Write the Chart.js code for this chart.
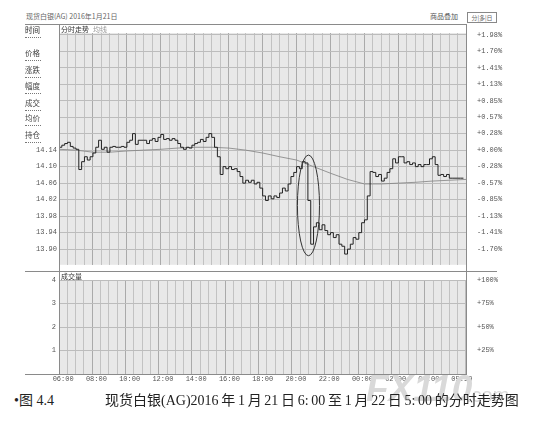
<!DOCTYPE html>
<html>
<head>
<meta charset="utf-8">
<script src="https://cdn.jsdelivr.net/npm/chart.js@4.4.1/dist/chart.umd.min.js"></script>
<style>
body { margin: 0; width: 538px; height: 432px; overflow: hidden; position: relative; background: #fff; font-family: "Noto Sans CJK SC", sans-serif; }
.t { position: absolute; white-space: nowrap; line-height: 1; }
.ln { position: absolute; background: #8a8a8a; }
.info { position: absolute; left: 25px; width: 16px; font-size: 7.5px; line-height: 8px; color: #444; }
.info span { position: absolute; left: 0; top: 11px; width: 16px; border-bottom: 1px dotted #777; }
.cap { font-size: 14px; color: #222; font-family: 'Liberation Serif', 'Noto Sans CJK SC'; }
canvas { position: absolute; left: 0; }
#priceChart { top: 0; }
#volChart { top: 272px; }
</style>
</head>
<body>

<div class="t" style="left:26px;top:13px;font-size:7px;color:#666;">现货白银(AG) 2016年1月21日</div>
<div class="t" style="left:430px;top:13px;font-size:7px;color:#555;">商品叠加</div>
<div class="t" style="left:467px;top:12px;width:28px;height:9px;border:1px solid #888;font-size:6px;color:#666;text-align:center;line-height:9px;">分|多|日</div>

<canvas id="priceChart" width="538" height="272"></canvas>
<canvas id="volChart" width="538" height="115"></canvas>

<div class="info" style="top:26px;color:#222;">时间<span></span></div>
<div class="info" style="top:49px;">价格<span></span></div>
<div class="info" style="top:66px;">涨跌<span></span></div>
<div class="info" style="top:82px;">幅度<span></span></div>
<div class="info" style="top:99px;">成交<span></span></div>
<div class="info" style="top:114px;">均价<span></span></div>
<div class="info" style="top:131px;">持仓<span></span></div>

<div class="t" style="left:61px;top:26px;font-size:7px;color:#333;">分时走势</div>
<div class="t" style="left:93px;top:26px;font-size:7px;color:#999;">均线</div>
<div class="t" style="left:61px;top:273px;font-size:7px;color:#333;">成交量</div>

<div class="ln" style="left:25px;top:24px;width:442px;height:1px;"></div>
<div class="ln" style="left:25px;top:271px;width:472px;height:1px;"></div>
<div class="ln" style="left:25px;top:374px;width:442px;height:1px;"></div>
<div class="ln" style="left:59px;top:24px;width:1px;height:351px;"></div>
<div class="ln" style="left:466px;top:24px;width:1px;height:351px;"></div>

<div class="t" style="left:366px;top:370px;font-size:37px;font-weight:bold;font-style:italic;color:#d9d9d9;font-family:'Liberation Sans';">FX110</div>
<div class="t" style="left:466px;top:385px;font-size:20px;color:#dadada;font-family:'Liberation Sans';">.com</div>

<div class="t cap" style="left:14px;top:394px;">•图 4.4</div>
<div class="t cap" style="left:105px;top:394px;word-spacing:-0.8px;">现货白银(AG)2016 年 1 月 21 日 6: 00 至 1 月 22 日 5: 00 的分时走势图</div>

<script>
// minutes after 06:00, one price every 10 minutes
var priceStep = 10;
var priceValues = [
	14.147, 14.152, 14.156, 14.159, 14.149, 14.145, 14.142, 14.093, 14.112, 14.124,
	14.116, 14.124, 14.133, 14.147, 14.164, 14.142, 14.147, 14.135, 14.147, 14.149,
	14.147, 14.147, 14.149, 14.147, 14.159, 14.164, 14.180, 14.154, 14.164, 14.164,
	14.164, 14.156, 14.164, 14.168, 14.161, 14.171, 14.178, 14.166, 14.168, 14.164,
	14.168, 14.164, 14.156, 14.147, 14.142, 14.147, 14.145, 14.152, 14.156, 14.159,
	14.166, 14.161, 14.171, 14.180, 14.171, 14.147, 14.124, 14.081, 14.100, 14.095,
	14.100, 14.093, 14.095, 14.088, 14.076, 14.060, 14.067, 14.062, 14.067, 14.058,
	14.062, 14.048, 14.029, 14.018, 14.029, 14.022, 14.029, 14.025, 14.036, 14.048,
	14.041, 14.058, 14.076, 14.086, 14.100, 14.095, 14.112, 14.109, 14.018, 13.912,
	13.954, 13.964, 13.947, 13.959, 13.945, 13.935, 13.940, 13.928, 13.935, 13.912,
	13.907, 13.888, 13.900, 13.912, 13.928, 13.924, 13.940, 13.964, 13.971, 14.029,
	14.088, 14.086, 14.076, 14.081, 14.065, 14.072, 14.086, 14.095, 14.119, 14.109,
	14.124, 14.124, 14.109, 14.112, 14.105, 14.109, 14.100, 14.105, 14.100, 14.105,
	14.105, 14.119, 14.124, 14.105, 14.079, 14.081, 14.076, 14.081, 14.072, 14.072,
	14.072, 14.072, 14.072, 14.072
];
// average price, one per hour from 06:00
var avgStep = 60;
var avgValues = [
	14.142, 14.140, 14.135, 14.135, 14.138, 14.140, 14.142, 14.145, 14.147, 14.147,
	14.145, 14.140, 14.133, 14.124, 14.116, 14.100, 14.084, 14.069, 14.058, 14.058,
	14.060, 14.062, 14.065, 14.067, 14.069
];
var volumeValues = [];

var prevClose = 14.14;
var priceTicks = [14.42, 14.38, 14.34, 14.30, 14.26, 14.22, 14.18, 14.14, 14.10, 14.06, 14.02, 13.98, 13.94, 13.90];
var pctLabels = ['+1.98%', '+1.70%', '+1.41%', '+1.13%', '+0.85%', '+0.57%', '+0.28%', '+0.00%', '-0.28%', '-0.57%', '-0.85%', '-1.13%', '-1.41%', '-1.70%'];
var volTicks = [4, 3, 2, 1];
var volPctLabels = ['+100%', '+75%', '+50%', '+25%'];
var timeTicks = [0, 120, 240, 360, 480, 600, 720, 840, 960, 1080, 1200, 1320, 1439];
var timeLabels = ['06:00', '08:00', '10:00', '12:00', '14:00', '16:00', '18:00', '20:00', '22:00', '00:00', '02:00', '04:00', '05:59'];

// the hand drawn ring round the drop
var ring = { minute: 882, price: 14.006, halfMinutes: 39, halfPrice: 0.122 };

var gridMinutes = [];
for (var m = 30; m < 1440; m += 30) gridMinutes.push(m);

var tickFont = { family: "'Liberation Mono', monospace", size: 7 };
var tickColor = '#555';

var panelBg = {
	id: 'panelBg',
	beforeDraw: function (chart) {
		var a = chart.chartArea, ctx = chart.ctx;
		ctx.save();
		ctx.fillStyle = '#e8e8e8';
		ctx.fillRect(a.left, a.top, a.right - a.left, a.bottom - a.top);
		ctx.restore();
	}
};

var ringPlugin = {
	id: 'ringPlugin',
	afterDatasetsDraw: function (chart) {
		var xs = chart.scales.x, ys = chart.scales.y, ctx = chart.ctx;
		var cx = xs.getPixelForValue(ring.minute);
		var cy = ys.getPixelForValue(ring.price);
		var rx = Math.abs(xs.getPixelForValue(ring.minute + ring.halfMinutes) - cx);
		var ry = Math.abs(ys.getPixelForValue(ring.price + ring.halfPrice) - cy);
		ctx.save();
		ctx.strokeStyle = '#333';
		ctx.lineWidth = 1;
		ctx.beginPath();
		ctx.ellipse(cx, cy, rx, ry, 0, 0, Math.PI * 2);
		ctx.stroke();
		ctx.restore();
	}
};

function xGridColor(c) {
	if (!c.tick) return '#bdbdbd';
	return c.tick.value % 120 === 0 ? '#aaaaaa' : '#c2c2c2';
}

var priceCtx = document.getElementById('priceChart').getContext('2d');
var priceChart = new Chart(priceCtx, {
	type: 'line',
	data: {
		datasets: [
			{
				data: priceValues.map(function (v, i) { return { x: i * priceStep, y: v }; }),
				borderColor: '#222',
				borderWidth: 1,
				stepped: true,
				pointRadius: 0,
				yAxisID: 'y'
			},
			{
				data: avgValues.map(function (v, i) { return { x: Math.min(i * avgStep, 1439), y: v }; }),
				borderColor: '#808080',
				borderWidth: 0.8,
				pointRadius: 0,
				yAxisID: 'y'
			}
		]
	},
	options: {
		responsive: false,
		animation: false,
		layout: { padding: { top: 33, bottom: 1, left: 0, right: 0 } },
		plugins: { legend: { display: false }, tooltip: { enabled: false } },
		scales: {
			x: {
				type: 'linear', min: 0, max: 1439,
				afterBuildTicks: function (s) { s.ticks = gridMinutes.map(function (v) { return { value: v }; }); },
				afterFit: function (s) { s.height = 0; },
				ticks: { display: false },
				grid: { color: xGridColor, drawTicks: false },
				border: { display: false }
			},
			y: {
				position: 'left', min: 13.862, max: 14.424,
				afterBuildTicks: function (s) { s.ticks = priceTicks.map(function (v) { return { value: v }; }); },
				afterFit: function (s) { s.width = 59; },
				ticks: {
					font: tickFont, color: tickColor, padding: 2,
					callback: function (v) { return v <= prevClose + 0.001 ? v.toFixed(2) : ''; }
				},
				grid: { color: '#bcbcbc', drawTicks: false },
				border: { display: false }
			},
			y2: {
				position: 'right', min: 13.862, max: 14.424,
				afterBuildTicks: function (s) { s.ticks = priceTicks.map(function (v) { return { value: v }; }); },
				afterFit: function (s) { s.width = 72; },
				ticks: {
					font: tickFont, color: tickColor, padding: 3,
					callback: function (v, i) { return pctLabels[i]; }
				},
				grid: { display: false },
				border: { display: false }
			}
		}
	},
	plugins: [panelBg, ringPlugin]
});

var volCtx = document.getElementById('volChart').getContext('2d');
var volChart = new Chart(volCtx, {
	type: 'bar',
	data: {
		datasets: [{ data: volumeValues, backgroundColor: '#333', yAxisID: 'y' }]
	},
	options: {
		responsive: false,
		animation: false,
		layout: { padding: { top: 8, bottom: 0, left: 0, right: 0 } },
		plugins: { legend: { display: false }, tooltip: { enabled: false } },
		scales: {
			x: {
				type: 'linear', min: 0, max: 1439,
				afterBuildTicks: function (s) {
					s.ticks = gridMinutes.concat([0, 1439]).sort(function (a, b) { return a - b; }).map(function (v) { return { value: v }; });
				},
				afterFit: function (s) { s.height = 13; },
				ticks: {
					font: tickFont, color: tickColor, padding: 1, maxRotation: 0, autoSkip: false,
					callback: function (v) {
						var k = timeTicks.indexOf(v);
						return k >= 0 ? timeLabels[k] : '';
					}
				},
				grid: { color: xGridColor, drawTicks: false },
				border: { display: false }
			},
			y: {
				position: 'left', min: 0, max: 4,
				afterBuildTicks: function (s) { s.ticks = volTicks.map(function (v) { return { value: v }; }); },
				afterFit: function (s) { s.width = 59; },
				ticks: { font: tickFont, color: tickColor, padding: 3, callback: function (v) { return String(v); } },
				grid: { color: '#bcbcbc', drawTicks: false },
				border: { display: false }
			},
			y2: {
				position: 'right', min: 0, max: 4,
				afterBuildTicks: function (s) { s.ticks = volTicks.map(function (v) { return { value: v }; }); },
				afterFit: function (s) { s.width = 72; },
				ticks: { font: tickFont, color: tickColor, padding: 3, callback: function (v, i) { return volPctLabels[i]; } },
				grid: { display: false },
				border: { display: false }
			}
		}
	},
	plugins: [panelBg]
});
</script>
</body>
</html>
